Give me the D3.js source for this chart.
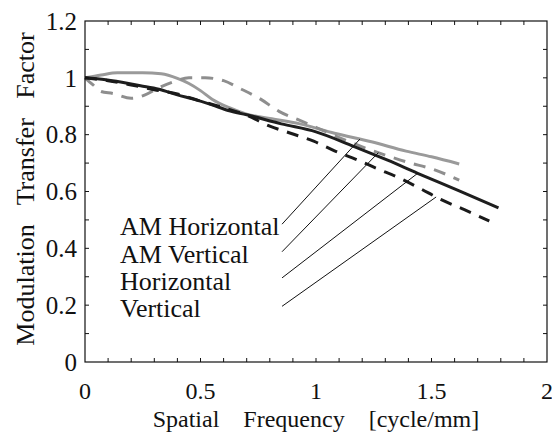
<!DOCTYPE html>
<html>
<head>
<meta charset="utf-8">
<script src="https://cdn.jsdelivr.net/npm/d3@7"></script>
<style>
  html, body { margin: 0; padding: 0; background: #fff; }
  svg { display: block; }
</style>
</head>
<body>
<svg id="chart" width="552" height="432"></svg>
<script>
// MTF curves: spatial frequency [cycle/mm] vs modulation transfer factor
const amHorizontalX = [0, 0.07, 0.14, 0.25, 0.33, 0.4, 0.45, 0.5, 0.55, 0.63, 0.7, 0.8, 0.93, 1.08, 1.24, 1.39, 1.5, 1.62];
const amHorizontalY = [1.0, 1.01, 1.018, 1.018, 1.014, 0.998, 0.98, 0.955, 0.925, 0.893, 0.872, 0.857, 0.838, 0.805, 0.775, 0.742, 0.722, 0.697];

const amVerticalX = [0, 0.035, 0.07, 0.12, 0.2, 0.26, 0.32, 0.38, 0.45, 0.52, 0.6, 0.67, 0.76, 0.84, 0.93, 1.0, 1.1, 1.2, 1.3, 1.4, 1.5, 1.62];
const amVerticalY = [1.0, 0.975, 0.952, 0.945, 0.928, 0.94, 0.965, 0.985, 1.0, 1.0, 0.99, 0.963, 0.925, 0.882, 0.85, 0.826, 0.79, 0.757, 0.728, 0.702, 0.68, 0.64];

const horizontalX = [0, 0.09, 0.24, 0.32, 0.4, 0.47, 0.55, 0.62, 0.7, 0.85, 1.0, 1.16, 1.31, 1.44, 1.62, 1.79];
const horizontalY = [1.0, 0.993, 0.972, 0.96, 0.94, 0.925, 0.905, 0.885, 0.87, 0.838, 0.81, 0.76, 0.71, 0.664, 0.602, 0.542];

const verticalX = [0, 0.1, 0.2, 0.3, 0.4, 0.5, 0.6, 0.7, 0.8, 0.89, 0.99, 1.08, 1.18, 1.26, 1.36, 1.45, 1.54, 1.64, 1.75];
const verticalY = [1.0, 0.99, 0.975, 0.958, 0.943, 0.918, 0.895, 0.868, 0.83, 0.805, 0.777, 0.743, 0.711, 0.682, 0.648, 0.611, 0.572, 0.537, 0.496];

const xTicks = [0, 0.5, 1, 1.5, 2];
const yTicks = [0, 0.2, 0.4, 0.6, 0.8, 1, 1.2];
const xTickLabels = ["0", "0.5", "1", "1.5", "2"];
const yTickLabels = ["0", "0.2", "0.4", "0.6", "0.8", "1", "1.2"];

const seriesNames = ["AM Horizontal", "AM Vertical", "Horizontal", "Vertical"];
// x position on each curve where its leader line ends
const leaderEndX = [1.19, 1.27, 1.44, 1.52];
// leader line start, in data units (just right of the legend text)
const leaderStartX = [0.853, 0.853, 0.853, 0.853];
const leaderStartY = [0.485, 0.388, 0.296, 0.196];

const xLabel = "Spatial    Frequency    [cycle/mm]";
const yLabel = "Modulation   Transfer   Factor";

const FONT = "'Liberation Serif', 'Times New Roman', Times, Tinos, 'Nimbus Roman', FreeSerif, 'DejaVu Serif', 'Noto Serif', serif";

const svg = d3.select("#chart").attr("font-family", FONT);
const margin = { left: 85, top: 21, right: 5, bottom: 70 };
const W = 552, H = 432;
const x = d3.scaleLinear().domain([0, 2]).range([margin.left, W - margin.right]);
const y = d3.scaleLinear().domain([0, 1.2]).range([H - margin.bottom, margin.top]);

const series = [
  { xs: amHorizontalX, ys: amHorizontalY, color: "#9a9a9a", dash: null, width: 3 },
  { xs: amVerticalX, ys: amVerticalY, color: "#8e8e8e", dash: "12,9", width: 3 },
  { xs: horizontalX, ys: horizontalY, color: "#1e1e1e", dash: null, width: 3 },
  { xs: verticalX, ys: verticalY, color: "#1a1a1a", dash: "12,9", width: 3 }
];

const line = d3.line().x(d => x(d[0])).y(d => y(d[1])).curve(d3.curveMonotoneX);

// curves
series.forEach(s => {
  const pts = s.xs.map((v, i) => [v, s.ys[i]]);
  svg.append("path")
    .datum(pts)
    .attr("d", line)
    .attr("fill", "none")
    .attr("stroke", s.color)
    .attr("stroke-width", s.width)
    .attr("stroke-dasharray", s.dash)
    .attr("stroke-linecap", "butt")
    .attr("stroke-linejoin", "round");
});

// frame with inward ticks on all four sides
const frame = svg.append("g");
frame.append("rect")
  .attr("x", x(0)).attr("y", y(1.2))
  .attr("width", x(2) - x(0)).attr("height", y(0) - y(1.2))
  .attr("fill", "none").attr("stroke", "#111").attr("stroke-width", 1.2);

const tickLen = 4;
const xMinor = d3.range(1, 20).map(i => i / 10);
const yMinor = d3.range(1, 12).map(i => i / 10);
xMinor.forEach(v => {
  frame.append("line").attr("x1", x(v)).attr("x2", x(v)).attr("y1", y(0)).attr("y2", y(0) - tickLen).attr("stroke", "#111");
  frame.append("line").attr("x1", x(v)).attr("x2", x(v)).attr("y1", y(1.2)).attr("y2", y(1.2) + tickLen).attr("stroke", "#111");
});
yMinor.forEach(v => {
  frame.append("line").attr("y1", y(v)).attr("y2", y(v)).attr("x1", x(0)).attr("x2", x(0) + tickLen).attr("stroke", "#111");
  frame.append("line").attr("y1", y(v)).attr("y2", y(v)).attr("x1", x(2)).attr("x2", x(2) - tickLen).attr("stroke", "#111");
});

// tick labels
svg.append("g").selectAll("text").data(xTicks).join("text")
  .attr("x", d => x(d)).attr("y", 399)
  .attr("text-anchor", "middle").attr("font-size", 24).attr("fill", "#111")
  .text((d, i) => xTickLabels[i]);

svg.append("g").selectAll("text").data(yTicks).join("text")
  .attr("x", x(0) - 8).attr("y", d => y(d)).attr("dy", "0.35em")
  .attr("text-anchor", "end").attr("font-size", 25).attr("fill", "#111")
  .text((d, i) => yTickLabels[i]);

// axis titles
svg.append("text")
  .attr("x", (x(0) + x(2)) / 2).attr("y", 427)
  .attr("text-anchor", "middle").attr("font-size", 24).attr("fill", "#111")
  .style("white-space", "pre")
  .text(xLabel);

svg.append("text")
  .attr("transform", "translate(34, 189) rotate(-90)")
  .attr("text-anchor", "middle").attr("font-size", 26).attr("fill", "#111")
  .style("white-space", "pre")
  .text(yLabel);

// legend labels with leader lines to their curves
const interp = (xs, ys, v) => {
  for (let i = 1; i < xs.length; i++) {
    if (v <= xs[i]) {
      const t = (v - xs[i - 1]) / (xs[i] - xs[i - 1]);
      return ys[i - 1] + t * (ys[i] - ys[i - 1]);
    }
  }
  return ys[ys.length - 1];
};

const legendBase = [235, 263, 290, 317];
seriesNames.forEach((name, i) => {
  svg.append("text")
    .attr("x", 120).attr("y", legendBase[i])
    .attr("font-size", 26).attr("fill", "#111")
    .text(name);
  const s = series[i];
  const ex = leaderEndX[i];
  const ey = interp(s.xs, s.ys, ex);
  svg.append("line")
    .attr("x1", x(leaderStartX[i])).attr("y1", y(leaderStartY[i]))
    .attr("x2", x(ex)).attr("y2", y(ey))
    .attr("stroke", "#111").attr("stroke-width", 1);
});
</script>
</body>
</html>
